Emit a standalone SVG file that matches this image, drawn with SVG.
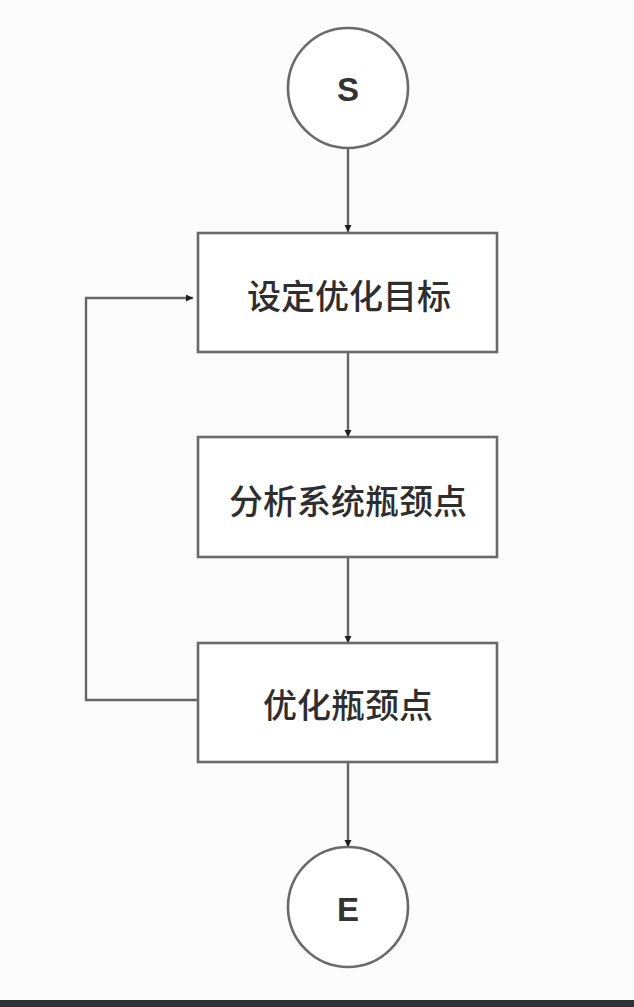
<svg xmlns="http://www.w3.org/2000/svg" width="634" height="1007" viewBox="0 0 634 1007">
<defs>
<marker id="arr" markerWidth="10" markerHeight="10" refX="8" refY="5" orient="auto" markerUnits="userSpaceOnUse">
<path d="M1,1.5 L8,5 L1,8.5 Z" fill="#1e1e1e"/>
</marker>
<style>
.shape{fill:#ffffff;stroke:#6a6a6a;stroke-width:2.6}
.conn{fill:none;stroke:#666666;stroke-width:2.4}
.lbl{font-family:"Noto Sans CJK SC","Liberation Sans",sans-serif;font-size:34px;font-weight:500;fill:#2e2e2e;text-anchor:middle;dominant-baseline:central}
.term{font-family:"Liberation Sans","Noto Sans",sans-serif;font-size:33px;font-weight:bold;fill:#333333;text-anchor:middle;dominant-baseline:central}
</style>
</defs>
<rect x="0" y="0" width="634" height="1007" fill="#fcfcfc"/>
<rect x="0" y="1000" width="634" height="7" fill="#2e3238"/>
<g id="connectors">
<line class="conn" x1="348" y1="148" x2="348" y2="232" marker-end="url(#arr)"/>
<line class="conn" x1="348" y1="352" x2="348" y2="437" marker-end="url(#arr)"/>
<line class="conn" x1="348" y1="557" x2="348" y2="643" marker-end="url(#arr)"/>
<line class="conn" x1="348" y1="763" x2="348" y2="847" marker-end="url(#arr)"/>
<polyline class="conn" points="204,700 86,700 86,298 193,298" marker-end="url(#arr)"/>
</g>
<g id="start">
<circle class="shape" cx="348" cy="88" r="60"/>
<text class="term" x="348" y="89">S</text>
</g>
<g id="set-goal">
<rect class="shape" x="198" y="233" width="299" height="119"/>
<text class="lbl" x="349" y="294">设定优化目标</text>
</g>
<g id="analyze">
<rect class="shape" x="198" y="437" width="299" height="120"/>
<text class="lbl" x="348" y="499">分析系统瓶颈点</text>
</g>
<g id="optimize">
<rect class="shape" x="198" y="643" width="299" height="119"/>
<text class="lbl" x="348" y="703">优化瓶颈点</text>
</g>
<g id="end">
<circle class="shape" cx="348" cy="907" r="60"/>
<text class="term" x="348" y="909">E</text>
</g>
</svg>
